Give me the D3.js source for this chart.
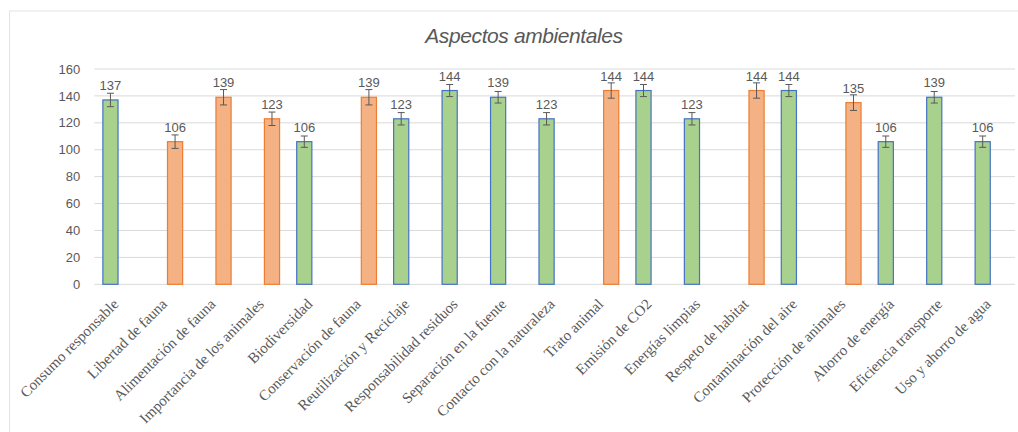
<!DOCTYPE html>
<html lang="es">
<head>
<meta charset="UTF-8">
<script src="https://d3js.org/d3.v7.min.js"></script>
<style>
  body { margin: 0; background: #fff; }
  svg { display: block; }
</style>
</head>
<body>
<div id="chart"></div>
<script>
// datos
const categorias = [
  "Consumo responsable", "Libertad de fauna", "Alimentación de fauna",
  "Importancia de los animales", "Biodiversidad", "Conservación de fauna",
  "Reutilización y Reciclaje", "Responsabilidad residuos", "Separación en la fuente",
  "Contacto con la naturaleza", "Trato animal", "Emisión de CO2",
  "Energías limpias", "Respeto de habitat", "Contaminación del aire",
  "Protección de animales", "Ahorro de energía", "Eficiencia transporte",
  "Uso y ahorro de agua"
];
const verde   = [137, null, null, null, 106, null, 123, 144, 139, 123, null, 144, 123, null, 144, null, 106, 139, 106];
const naranja = [null, 106, 139, 123, null, 139, null, null, null, null, 144, null, null, 144, null, 135, null, null, null];
const errores = [5, 5, 5.7, 5, 4.2, 5.7, 4.6, 4.5, 4.3, 4.6, 5.7, 4.5, 4.6, 5.7, 4.5, 5.8, 4.2, 4.3, 4.2];
const ticksY  = [0, 20, 40, 60, 80, 100, 120, 140, 160];

const width = 1018, height = 432;
const plot = { left: 94.3, right: 1015, top: 69, bottom: 284.3 };

const svg = d3.select("#chart").append("svg")
  .attr("width", width)
  .attr("height", height);

// borde del grafico
svg.append("rect")
  .attr("x", 9.5).attr("y", 11)
  .attr("width", width + 20).attr("height", height + 20)
  .attr("fill", "none")
  .attr("stroke", "#e3e3e3");

// titulo
svg.append("text")
  .attr("x", 524).attr("y", 43)
  .attr("text-anchor", "middle")
  .style("font-family", "'Liberation Sans', Arial, sans-serif")
  .style("font-style", "italic")
  .style("font-size", "21px")
  .style("letter-spacing", "-0.4px")
  .attr("fill", "#595959")
  .text("Aspectos ambientales");

const x = d3.scaleBand()
  .domain(categorias)
  .range([plot.left, plot.right])
  .paddingInner(0).paddingOuter(0);

const x1 = d3.scaleBand()
  .domain(["verde", "naranja"])
  .range([0, x.bandwidth()])
  .paddingInner(0).paddingOuter(0.5);

const y = d3.scaleLinear()
  .domain([0, 160])
  .range([plot.bottom, plot.top]);

// lineas de cuadricula
svg.append("g")
  .selectAll("line")
  .data(ticksY)
  .join("line")
  .attr("x1", plot.left).attr("x2", plot.right)
  .attr("y1", d => y(d)).attr("y2", d => y(d))
  .attr("stroke", "#d9d9d9")
  .attr("stroke-width", 1);

// eje Y
const yAxis = svg.append("g")
  .attr("transform", `translate(${plot.left - 14},0)`)
  .call(d3.axisLeft(y).tickValues(ticksY).tickSize(0).tickPadding(0));
yAxis.select(".domain").remove();
yAxis.selectAll("text")
  .style("font-family", "'Liberation Sans', Arial, sans-serif")
  .style("font-size", "13px")
  .attr("fill", "#595959");

// barras
const barras = [];
categorias.forEach((c, i) => {
  if (verde[i] != null) barras.push({ cat: c, serie: "verde", valor: verde[i], err: errores[i] });
  if (naranja[i] != null) barras.push({ cat: c, serie: "naranja", valor: naranja[i], err: errores[i] });
});

const estilo = {
  verde:   { fill: "#a9d18e", stroke: "#4472c4" },
  naranja: { fill: "#f4b183", stroke: "#ed7d31" }
};

const g = svg.append("g");

g.selectAll("rect.barra")
  .data(barras)
  .join("rect")
  .attr("class", "barra")
  .attr("x", d => x(d.cat) + x1(d.serie) + 0.5)
  .attr("y", d => y(d.valor))
  .attr("width", x1.bandwidth() - 1)
  .attr("height", d => y(0) - y(d.valor))
  .attr("fill", d => estilo[d.serie].fill)
  .attr("stroke", d => estilo[d.serie].stroke)
  .attr("stroke-width", 1.2);

// barras de error
const cx = d => x(d.cat) + x1(d.serie) + x1.bandwidth() / 2;
const err = g.selectAll("g.err")
  .data(barras)
  .join("g")
  .attr("class", "err")
  .attr("stroke", "#595959")
  .attr("stroke-width", 1);
err.append("line")
  .attr("x1", cx).attr("x2", cx)
  .attr("y1", d => y(d.valor + d.err)).attr("y2", d => y(d.valor - d.err));
err.append("line")
  .attr("x1", d => cx(d) - 3.5).attr("x2", d => cx(d) + 3.5)
  .attr("y1", d => y(d.valor + d.err)).attr("y2", d => y(d.valor + d.err));
err.append("line")
  .attr("x1", d => cx(d) - 3.5).attr("x2", d => cx(d) + 3.5)
  .attr("y1", d => y(d.valor - d.err)).attr("y2", d => y(d.valor - d.err));

// etiquetas de datos
g.selectAll("text.etiqueta")
  .data(barras)
  .join("text")
  .attr("class", "etiqueta")
  .attr("x", cx)
  .attr("y", d => y(d.valor) - 10)
  .attr("text-anchor", "middle")
  .style("font-family", "'Liberation Sans', Arial, sans-serif")
  .style("font-size", "13px")
  .attr("fill", "#595959")
  .text(d => d.valor);

// etiquetas del eje X
svg.append("g")
  .selectAll("text")
  .data(categorias)
  .join("text")
  .attr("transform", d => `translate(${x(d) + x.bandwidth() / 2 + 1},305) rotate(-45)`)
  .attr("text-anchor", "end")
  .style("font-family", "'Liberation Serif', 'Times New Roman', serif")
  .style("font-size", "15px")
  .attr("fill", "#595959")
  .text(d => d);
</script>
</body>
</html>
